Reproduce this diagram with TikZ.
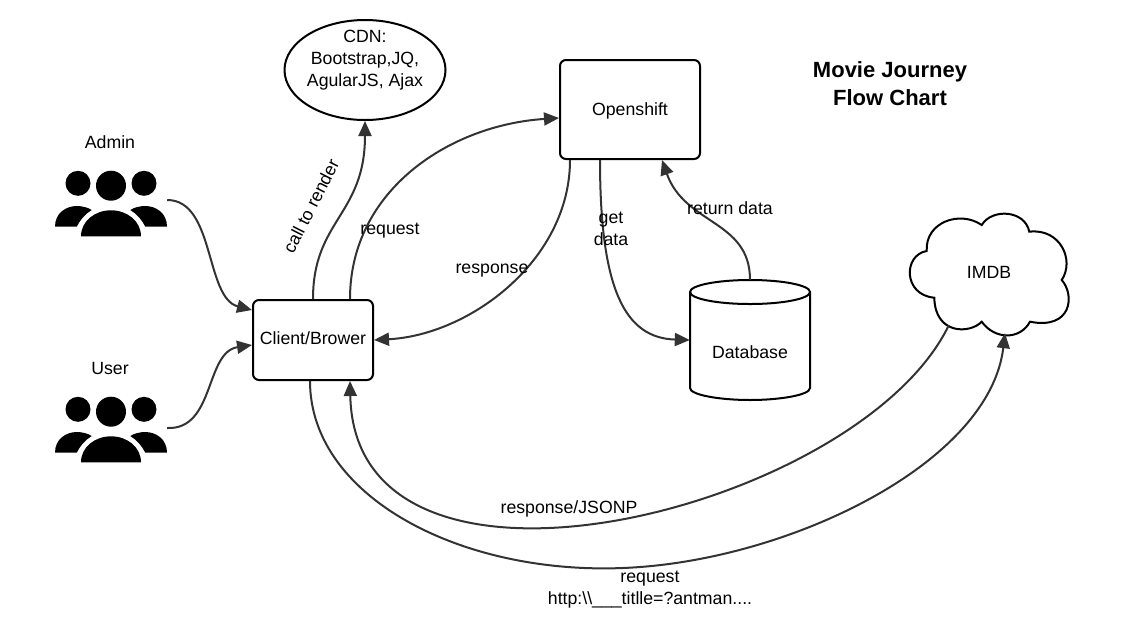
\documentclass[tikz,border=0pt]{standalone}
\usepackage{fontspec}
\setmainfont{Liberation Sans}
\usepackage{tikz}
\usetikzlibrary{arrows.meta,positioning,shapes.geometric}

\definecolor{flowgray}{HTML}{333333}
\tikzset{
  roundbox/.style={draw=black, line width=2pt, rounded corners=6pt, align=center},
  flow/.style={draw=flowgray, line width=2pt, -{Triangle[length=15pt,width=13pt]}},
  lbl/.style={align=center, inner sep=0pt, font=\fontsize{17.7}{22}\selectfont},
  headline/.style={align=center, inner sep=0pt, font=\fontsize{22}{28}\selectfont\bfseries},
  iconbox/.style={minimum width=112pt, minimum height=66pt, inner sep=0pt}
}
\newcommand{\peopleicon}[1]{
  \begin{scope}[shift={(#1)}]
    \fill (-33,-15.7) circle (12.5pt);
    \fill (0,-13.3) circle (15pt);
    \fill (33,-15.7) circle (12.5pt);
    \foreach \s in {-1,1}
      \fill[xscale=\s] (-56,27.7) .. controls (-56,14) and (-45,7) .. (-34,7) .. controls (-29,7) and (-23,8.5) .. (-19.3,11) .. controls (-26,15) and (-31,21) .. (-34.3,27.7) -- cycle;
    \fill (-30,37.3) .. controls (-30,22) and (-16,11.3) .. (0,11.3) .. controls (16,11.3) and (30,22) .. (30,37.3) -- cycle;
  \end{scope}
}

\begin{document}
\begin{tikzpicture}[x=1pt, y=-1pt]
\useasboundingbox (0,0) rectangle (1126,630);

% Actors
\node[lbl] (adminlabel) at (110,142) {Admin};
\node[iconbox] (admin) at (111,199) {};
\peopleicon{111,199}
\node[lbl] (userlabel) at (110,368) {User};
\node[iconbox] (user) at (111,425) {};
\peopleicon{111,425}

% Boxes
\node[roundbox, minimum width=120pt, minimum height=80pt] (client) at (313,340) {};
\node[lbl] (clientlabel) at (313,338) {Client/Brower};
\node[roundbox, minimum width=140pt, minimum height=99pt] (openshift) at (630,109.5) {};
\node[lbl] (openshiftlabel) at (630,111) {Openshift};
\node[ellipse, draw=black, line width=2pt, minimum width=161pt, minimum height=100pt] (cdn) at (365,70) {};
\node[lbl] (cdnlabel) at (365,60) {CDN:\\Bootstrap,JQ,\\AgularJS, Ajax};

% Database
\node[minimum width=120pt, minimum height=120pt, inner sep=0pt] (database) at (750,340) {};
\draw[line width=2pt] (750,292) ellipse [x radius=60pt, y radius=12pt];
\draw[line width=2pt] (690,292) -- (690,388) .. controls (690,395) and (720,400) .. (750,400) .. controls (780,400) and (810,395) .. (810,388) -- (810,292);
\node[lbl] (databaselabel) at (750,352) {Database};

% Cloud
\draw[line width=2pt] (926.7,251) .. controls (925,222) and (960,210) .. (981.7,225)
  .. controls (992,208) and (1025,210) .. (1029.3,231.7)
  .. controls (1060,228) and (1075,260) .. (1061.7,280)
  .. controls (1075,295) and (1072,330) .. (1030,321.7)
  .. controls (1020,340) and (995,340) .. (981.7,321.7)
  .. controls (970,334) and (935,335) .. (934.3,297.7)
  .. controls (903,295) and (903,255) .. (926.7,251) -- cycle;
\node[lbl, minimum width=80pt, minimum height=106pt] (imdb) at (989,272) {IMDB};

% Titles
\node[headline] (title) at (890,84) {Movie Journey\\Flow Chart};

% Connectors
\draw[flow] ([yshift=-1pt]admin.east) .. controls (215,200) and (205,298) .. ([yshift=30pt]client.west);
\draw[flow] ([yshift=-3pt]user.east) .. controls (215,430) and (205,352) .. ([yshift=-5pt]client.west);
\draw[flow] (client.north) .. controls (313,220) and (365,215) .. (cdn.south);
\draw[flow] ([xshift=37pt]client.north) .. controls (350,190) and (450,125) .. ([yshift=-8.5pt]openshift.west);
\draw[flow] ([xshift=-60pt]openshift.south) .. controls (570,260) and (470,335) .. (client.east);
\draw[flow] ([xshift=-30pt]openshift.south) .. controls (600,290) and (625,338) .. (database.west);
\draw[flow] (database.north) .. controls (750,220) and (685,225) .. ([xshift=32pt]openshift.south);
\draw[flow] (imdb.south west) .. controls (860,510) and (355,637) .. ([xshift=37pt]client.south);
\draw[flow] ([xshift=-3pt]client.south) .. controls (310,500) and (470,580) .. (640,567) .. controls (800,555) and (990,460) .. ([xshift=16pt,yshift=-8pt]imdb.south);

% Labels
\node[lbl, rotate=63] (callrender) at (311,206) {call to render};
\node[lbl] (reqlabel) at (390,231) {request};
\node[lbl] (resplabel) at (492,271) {response};
\node[lbl] (getlabel) at (611,229) {get\\data};
\node[lbl] (retlabel) at (730,208) {return data};
\node[lbl] (jsonplabel) at (569,509) {response/JSONP};
\node[lbl] (httplabel) at (650,590) {request\\http:\textbackslash\textbackslash\_\_\_titlle=?antman....};
\end{tikzpicture}
\end{document}
